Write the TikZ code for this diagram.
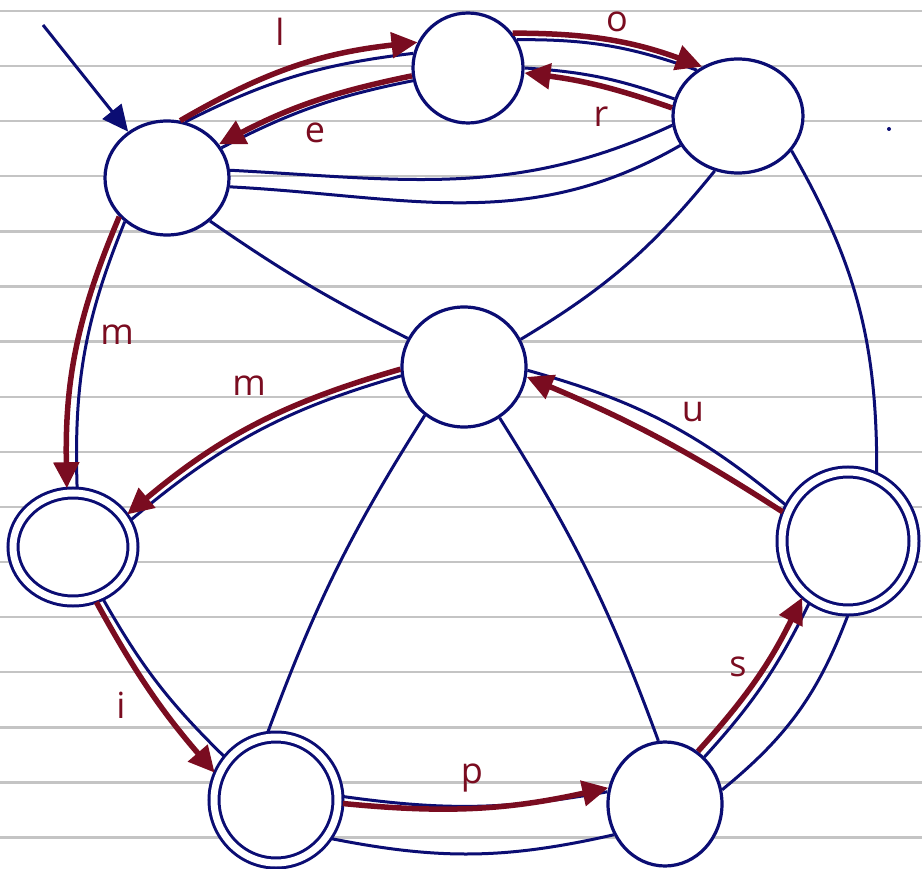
\documentclass[tikz,border=0pt]{standalone}
\usepackage{fontspec}
\setsansfont{Open Sans}
\usetikzlibrary{shapes.geometric,arrows.meta}
\definecolor{ink}{HTML}{0B0D73}
\definecolor{wine}{HTML}{7A0C20}
\definecolor{rule}{HTML}{C4C4C4}
\tikzset{
  state/.style={ellipse, draw=ink, line width=3.2pt, fill=white, inner sep=0pt},
  accept/.style={state, double=white, double distance=7pt, line width=3pt, outer sep=5pt},
  link/.style={draw=ink, line width=3pt},
  move/.style={draw=wine, line width=5.5pt, -{Triangle[length=26pt,width=25pt]}},
  sym/.style={text=wine, font=\sffamily\fontsize{36}{36}\selectfont, inner sep=0pt},
}
\begin{document}
\begin{tikzpicture}[x=1pt, y=-1pt]
  % page and ruling
  \fill[white] (0,0) rectangle (922,869);
  \useasboundingbox (0,0) rectangle (922,869);
  \foreach \k in {0,...,15}
    \draw[rule, line width=2.4pt] (0,{11+55.1*\k}) -- (922,{11+55.1*\k});
  \fill[ink] (889,129) circle (2);

  % states
  \node[state, minimum width=124pt, minimum height=114pt] (A) at (167,178) {};
  \node[state, minimum width=110pt, minimum height=110pt] (B) at (468,68) {};
  \node[state, minimum width=130pt, minimum height=114pt] (C) at (738,116) {};
  \node[state, minimum width=124pt, minimum height=120pt] (D) at (464,367) {};
  \node[accept, minimum width=120pt, minimum height=108pt] (E) at (73,547) {};
  \node[accept, minimum width=132pt, minimum height=138pt] (F) at (848,541) {};
  \node[accept, minimum width=124pt, minimum height=126pt] (G) at (276,800) {};
  \node[state, minimum width=114pt, minimum height=124pt] (H) at (665,804) {};

  % initial arrow
  \coordinate (start) at (43,25);
  \draw[link, -{Triangle[length=26pt,width=24pt]}] (start) -- (A.130);

  % undirected links
  \draw[link] (A.7) to[out=-3,in=205] (C.188);
  \draw[link] (A.-8) to[out=-3,in=210] (C.207);
  \draw[link] (A.-45) to[bend right=4] (D.153);
  \draw[link] (C.247) to[bend left=10] (D.26);
  \draw[link] (C.-33) to[bend left=15] (F.67);
  \draw[link] (D.231) to[bend right=6] (G.97);
  \draw[link] (D.-55) to[bend left=6] (H.96);
  \draw[link] (G.-35) to[bend right=12] (H.211);
  \draw[link] (H.14) to[bend right=15] (F.270);

  % blue strokes under the red moves
  \draw[link] (A.72) to[bend left=10] (B.165);
  \draw[link] (B.30) to[bend left=10] (C.132);
  \draw[link] (C.165) to[bend right=8] (B.0);
  \draw[link] (B.193) to[bend right=8] (A.29);
  \draw[link] (A.226) to[bend right=12] (E.86);
  \draw[link] (D.188) to[bend right=12] (E.25);
  \draw[link] (F.150) to[bend right=12] (D.-3);
  \draw[link] (E.-60) to[bend right=8] (G.140);
  \draw[link] (G.3) to[bend right=9] (H.168);
  \draw[link] (H.50) to[bend right=8] (F.238);

  % red moves
  \draw[move] (A.77) to[bend left=12] (B.153);
  \draw[move] (B.38) to[bend left=10] (C.126);
  \draw[move] (C.173) to[bend right=6] (B.-5);
  \draw[move] (B.188) to[bend right=8] (A.33);
  \draw[move] (A.219) to[bend right=12] (E.96);
  \draw[move] (D.182) to[bend right=12] (E.31);
  \draw[move] (F.156) to[bend right=5] (D.-9);
  \draw[move] (E.-67) to[bend right=6] (G.156);
  \draw[move] (G.-3) to[bend right=9] (H.164);
  \draw[move] (H.58) to[bend right=8] (F.231);

  % move labels
  \node[sym] (tl) at (280,32) {l};
  \node[sym] (te) at (315,133) {e};
  \node[sym] (to) at (617,22) {o};
  \node[sym] (tr) at (601,117) {r};
  \node[sym] (tm1) at (117,335) {m};
  \node[sym] (tm2) at (249,386) {m};
  \node[sym] (tu) at (693,412) {u};
  \node[sym] (ti) at (121,705) {i};
  \node[sym] (tp) at (472,778) {p};
  \node[sym] (ts) at (738,667) {s};
\end{tikzpicture}
\end{document}
